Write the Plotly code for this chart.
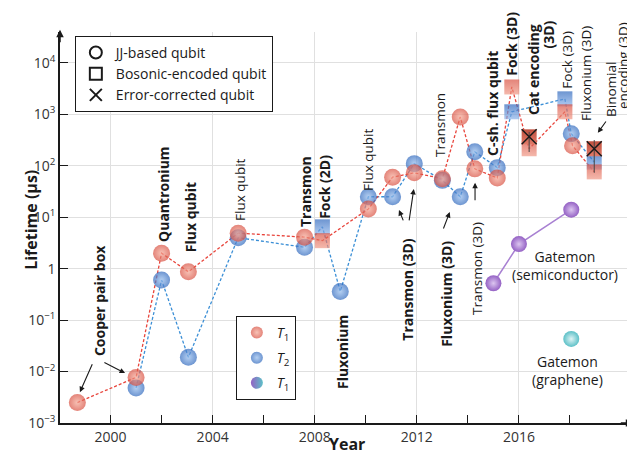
import plotly.graph_objects as go

# T1 (red): JJ-based and bosonic-encoded qubits, chronological
t1_year = [1998.7, 2001.0, 2002.0, 2003.05, 2005.0, 2007.6, 2008.3, 2010.1, 2011.05, 2011.9,
           2013.0, 2013.7, 2014.27, 2015.15, 2015.72, 2016.4, 2017.8, 2018.1, 2018.95]
t1_value = [0.0025, 0.0077, 2.0, 0.87, 4.9, 4.1, 3.5, 14.5, 60, 73,
            56, 890, 87, 58, 3400, 214, 1120, 245, 76]
t1_kind = ['JJ'] * 6 + ['bos'] + ['JJ'] * 7 + ['bos', 'bos', 'bos', 'JJ', 'bos']

# T2 (blue)
t2_year = [2001.0, 2002.0, 2003.05, 2005.0, 2007.6, 2008.3, 2009.0, 2010.1, 2011.05, 2011.9,
           2013.0, 2013.7, 2014.27, 2015.15, 2015.72, 2017.8, 2018.05, 2018.95]
t2_value = [0.0048, 0.6, 0.019, 4.0, 2.6, 6.5, 0.36, 25, 25, 110,
            52, 25, 187, 92, 1120, 2000, 420, 118]
t2_kind = ['JJ'] * 5 + ['bos'] + ['JJ'] * 8 + ['bos', 'bos', 'JJ', 'bos']

# error-corrected qubits (cat, binomial)
ec_year = [2016.4, 2018.95]
ec_value = [365, 214]
ec_low = [185, 73]
ec_high = [455, 316]

# gatemons
gs_year = [2015.0, 2016.0, 2018.05]
gs_value = [0.52, 3.0, 14]
gg_year = [2018.05]
gg_value = [0.043]

RED, RED_L, RED_SQ = '#d84f40', '#f4a896', '#f09a88'
BLUE, BLUE_L, BLUE_SQ = '#2f68bd', '#94bbec', '#8db4ea'
PURPLE, PURPLE_L = '#9461c4', '#dcc6f0'
CYAN, CYAN_L = '#5cc0c7', '#dff4f5'
FONT = 'Open Sans'


def sym(kinds):
    return ['circle' if k == 'JJ' else 'square' for k in kinds]


def size(kinds):
    return [17 if k == 'JJ' else 15 for k in kinds]


def grad(kinds):
    return ['radial' if k == 'JJ' else 'vertical' for k in kinds]


def gcol(kinds, light, sq):
    return [light if k == 'JJ' else sq for k in kinds]


fig = go.Figure()

# lines below everything
fig.add_trace(go.Scatter(x=t2_year, y=t2_value, mode='lines', showlegend=False,
                         line=dict(color='#3b8fd6', width=1.3, dash='3px,2px')))
fig.add_trace(go.Scatter(x=t1_year, y=t1_value, mode='lines', showlegend=False,
                         line=dict(color='#e8453c', width=1.3, dash='3px,2px')))
fig.add_trace(go.Scatter(x=gs_year, y=gs_value, mode='lines', showlegend=False,
                         line=dict(color='#a880d2', width=1.5)))

# markers
fig.add_trace(go.Scatter(
    x=t2_year, y=t2_value, mode='markers', name='<i>T</i><sub>2</sub>',
    legend='legend2', legendgroup='t2', legendrank=2,
    marker=dict(symbol=sym(t2_kind), size=size(t2_kind), color=BLUE, line=dict(width=0),
                gradient=dict(type=grad(t2_kind), color=gcol(t2_kind, BLUE_L, BLUE_SQ)))
))
fig.add_trace(go.Scatter(
    x=t1_year, y=t1_value, mode='markers', name='<i>T</i><sub>1</sub>',
    legend='legend2', legendgroup='t1', legendrank=1,
    marker=dict(symbol=sym(t1_kind), size=size(t1_kind), color=RED, line=dict(width=0),
                gradient=dict(type=grad(t1_kind), color=gcol(t1_kind, RED_L, RED_SQ)))
))
fig.add_trace(go.Scatter(
    x=ec_year, y=ec_value, mode='markers', showlegend=False,
    marker=dict(symbol='square', size=15, color='#c0503f', line=dict(width=0),
                gradient=dict(type='vertical', color='#e07a68'))
))
fig.add_trace(go.Scatter(
    x=ec_year, y=ec_value, mode='markers', name='Error-corrected qubit',
    legendrank=3,
    marker=dict(symbol='x-thin-open', size=15, color='#1a1a1a', line=dict(width=1.5, color='#1a1a1a')),
    error_y=dict(type='data', symmetric=False,
                 array=[h - v for h, v in zip(ec_high, ec_value)],
                 arrayminus=[v - l for v, l in zip(ec_value, ec_low)],
                 color='#444', thickness=1, width=0)
))
fig.add_trace(go.Scatter(
    x=gs_year, y=gs_value, mode='markers', showlegend=False,
    marker=dict(size=16, color=PURPLE, line=dict(width=0),
                gradient=dict(type='radial', color=PURPLE_L))
))
fig.add_trace(go.Scatter(
    x=gg_year, y=gg_value, mode='markers', showlegend=False,
    marker=dict(size=16, color=CYAN, line=dict(width=0),
                gradient=dict(type='radial', color=CYAN_L))
))

# legend-only entries
fig.add_trace(go.Scatter(x=[None], y=[None], mode='markers', name='JJ-based qubit', legendrank=1,
                         marker=dict(symbol='circle-open', size=14, color='#1a1a1a', line=dict(width=1.2))))
fig.add_trace(go.Scatter(x=[None], y=[None], mode='markers', name='Bosonic-encoded qubit', legendrank=2,
                         marker=dict(symbol='square-open', size=14, color='#1a1a1a', line=dict(width=1.2))))
fig.add_trace(go.Scatter(x=[None], y=[None], mode='markers', name='<i>T</i><sub>1</sub>',
                         legend='legend2', legendgroup='gm', legendrank=3,
                         marker=dict(size=16, color=PURPLE, line=dict(width=0),
                                     gradient=dict(type='horizontal', color=CYAN))))

# labels: text, year, log10(lifetime), bold
labels = [
    ('Cooper pair box', 1999.55, -0.63, True),
    ('Quantronium', 2002.05, 1.45, True),
    ('Flux qubit', 2003.11, 1.0, True),
    ('Flux qubit', 2005.07, 1.53, False),
    ('Transmon', 2007.62, 1.49, True),
    ('Fock (2D)', 2008.4, 1.59, True),
    ('Fluxonium', 2009.07, -1.62, True),
    ('Flux qubit', 2010.08, 2.11, False),
    ('Transmon (3D)', 2011.65, -0.41, True),
    ('Transmon', 2012.9, 2.79, False),
    ('Fluxonium (3D)', 2013.18, -0.49, True),
    ('Transmon (3D)', 2014.35, 0.01, False),
    ('C-sh. flux qubit', 2014.94, 3.22, True),
    ('Fock (3D)', 2015.72, 4.37, True),
    ('Cat encoding', 2016.55, 3.88, True),
    ('Fock (3D)', 2017.88, 4.06, False),
    ('Fluxonium (3D)', 2018.6, 3.79, False),
    ('Binomial', 2019.6, 3.49, False),
    ('encoding (3D)', 2020.1, 3.95, False),
]
ann = []
for text, x, y, bold in labels:
    ann.append(dict(x=x, y=y, text=f'<b>{text}</b>' if bold else text, textangle=-90,
                    showarrow=False, font=dict(size=14 if bold else 13.5, color='#1a1a1a')))
# sits above the top of the y range, so placed in paper units
ann.append(dict(x=2017.17, y=1.034, yref='paper', text='<b>(3D)</b>', textangle=-90,
                showarrow=False, font=dict(size=14, color='#1a1a1a')))
ann.append(dict(x=2017.8, y=0.07, text='Gatemon<br>(semiconductor)', showarrow=False,
                font=dict(size=14, color='#1a1a1a')))
ann.append(dict(x=2017.92, y=-1.97, text='Gatemon<br>(graphene)', showarrow=False,
                font=dict(size=14, color='#1a1a1a')))

# pointer arrows: head (x, y) and tail (ax, ay)
arrows = [
    (1998.8, -2.40, 1999.31, -1.83),
    (2000.57, -2.03, 1999.7, -1.81),
    (2011.3, 1.14, 2011.49, 0.91),
    (2011.88, 1.55, 2011.69, 0.91),
    (2013.29, 1.10, 2013.02, 0.75),
    (2014.28, 1.67, 2014.28, 1.30),
    (2019.09, 2.64, 2019.45, 2.89),
]
for x, y, ax, ay in arrows:
    ann.append(dict(x=x, y=y, ax=ax, ay=ay, axref='x', ayref='y', text='', showarrow=True,
                    arrowhead=2, arrowsize=1, arrowwidth=1.1, arrowcolor='#1a1a1a', standoff=0))

# axis arrowheads and titles
ann.append(dict(x=1.004, y=0, xref='paper', yref='paper', ax=-14, ay=0, text='', showarrow=True,
                arrowhead=2, arrowsize=1, arrowwidth=1.5, arrowcolor='#1a1a1a', standoff=0))
ann.append(dict(x=0, y=1.006, xref='paper', yref='paper', ax=0, ay=14, text='', showarrow=True,
                arrowhead=2, arrowsize=1, arrowwidth=1.5, arrowcolor='#1a1a1a', standoff=0))
ann.append(dict(x=-0.074, y=0.519, xref='paper', yref='paper', text='<b>Lifetime (μs)</b>',
                textangle=-90, showarrow=False, font=dict(size=16, color='#1a1a1a')))
ann.append(dict(x=0.503, y=-0.087, xref='paper', yref='paper', text='<b>Year</b>',
                showarrow=False, font=dict(size=16, color='#1a1a1a')))

# the page body adds an 8px margin, so the figure is 8px smaller and shifted up-left
fig.update_layout(
    width=627, height=458,
    margin=dict(l=52, r=4, t=24, b=43),
    plot_bgcolor='white', paper_bgcolor='white',
    font=dict(family=FONT, size=13, color='#1a1a1a'),
    annotations=ann,
    legend=dict(x=0.026, y=0.99, xanchor='left', yanchor='top', bgcolor='white',
                bordercolor='#1a1a1a', borderwidth=1, font=dict(size=14), itemsizing='constant',
                tracegroupgap=0),
    legend2=dict(x=0.308, y=0.274, xanchor='left', yanchor='top', bgcolor='white',
                 bordercolor='#1a1a1a', borderwidth=1, font=dict(size=14), itemsizing='constant',
                 traceorder='grouped', tracegroupgap=4),
    xaxis=dict(range=[1998.02, 2020.39], tickvals=[2000, 2004, 2008, 2012, 2016],
               ticks='inside', ticklen=8, tickwidth=1.2, tickcolor='#1a1a1a',
               minor=dict(tickvals=[2002, 2006, 2010, 2014, 2018], ticks='inside', ticklen=8,
                          tickwidth=1.2, tickcolor='#1a1a1a', showgrid=False),
               showgrid=True, gridcolor='#e0e0e0', gridwidth=1, zeroline=False,
               showline=True, linecolor='#1a1a1a', linewidth=1.5,
               tickfont=dict(size=14, color='#333')),
    yaxis=dict(type='log', range=[-3, 4.6],
               tickvals=[1e-3, 1e-2, 1e-1, 1, 10, 100, 1e3, 1e4],
               ticktext=['10<sup>−3</sup>', '10<sup>−2</sup>', '10<sup>−1</sup>', '1',
                         '10<sup>1</sup>', '10<sup>2</sup>', '10<sup>3</sup>', '10<sup>4</sup>'],
               ticks='inside', ticklen=8, tickwidth=1.2, tickcolor='#1a1a1a',
               showgrid=True, gridcolor='#e0e0e0', gridwidth=1, zeroline=False,
               showline=True, linecolor='#1a1a1a', linewidth=1.5,
               tickfont=dict(size=14, color='#333')),
)

fig.write_html('out.html')
